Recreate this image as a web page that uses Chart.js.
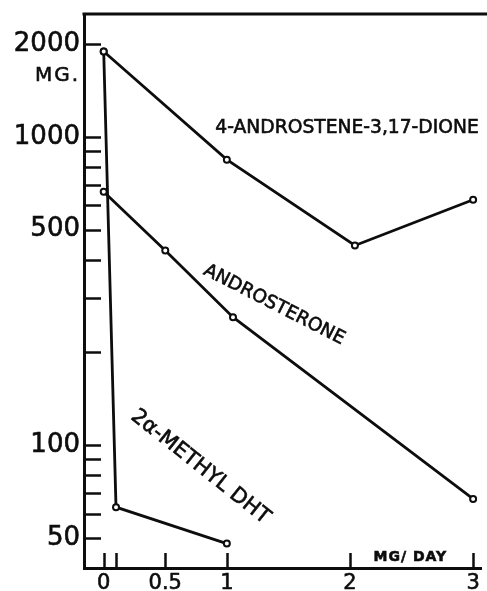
<!DOCTYPE html>
<html>
<head>
<meta charset="utf-8">
<script src="https://cdn.jsdelivr.net/npm/chart.js@4/dist/chart.umd.min.js"></script>
<style>
html,body{margin:0;padding:0;background:#fff;}
#wrap{width:487px;height:591px;position:relative;}
</style>
</head>
<body>
<div id="wrap"><canvas id="c" width="487" height="591"></canvas></div>
<script>
// ---- data ----
const androstenedioneX = [0, 1, 2.04, 3];
const androstenedioneY = [1890, 843, 444, 625];
const androsteroneX = [0, 0.5, 1.05, 3];
const androsteroneY = [663, 428, 260, 67];
const methylDhtX = [0, 0.1, 1];
const methylDhtY = [1890, 63, 48];

const xTickValues = [0, 0.1, 0.5, 1, 2, 3];
const xTickLabels = ['0', '', '0.5', '1', '2', '3'];
const yTickValues = [50, 60, 70, 80, 90, 100, 200, 300, 400, 500, 600, 700, 800, 900, 1000, 2000];
const yLabeledTicks = [2000, 1000, 500, 100, 50];
const yUnitLabel = 'MG.';
const xUnitLabel = 'MG/ DAY';
const seriesNames = ['4-ANDROSTENE-3,17-DIONE', 'ANDROSTERONE', '2α-METHYL DHT'];

const toPts = (xs, ys) => xs.map((x, i) => ({x: x, y: ys[i]}));
const INK = '#0d0d0d';
const FONT = '"DejaVu Sans", sans-serif';

function ds(label, xs, ys) {
  return {
    label: label,
    data: toPts(xs, ys),
    borderColor: INK,
    borderWidth: 2.8,
    pointRadius: 3,
    pointBorderWidth: 2,
    pointBackgroundColor: '#fff',
    pointBorderColor: INK,
    tension: 0,
    clip: false
  };
}

const framePlugin = {
  id: 'frame',
  afterDraw(chart) {
    const ctx = chart.ctx;
    const a = chart.chartArea;
    const xs = chart.scales.x, ys = chart.scales.y;
    ctx.save();
    ctx.strokeStyle = INK;
    ctx.lineCap = 'butt';
    // top frame line
    ctx.lineWidth = 3;
    ctx.beginPath();
    ctx.moveTo(a.left - 1.5, a.top);
    ctx.lineTo(chart.width, a.top);
    ctx.stroke();
    // inward y ticks
    ctx.lineWidth = 2.5;
    yTickValues.forEach(v => {
      const p = Math.round(ys.getPixelForValue(v)) + 0.5;
      ctx.beginPath();
      ctx.moveTo(a.left, p);
      ctx.lineTo(a.left + 17, p);
      ctx.stroke();
    });
    // inward x ticks
    xTickValues.forEach(v => {
      const p = Math.round(xs.getPixelForValue(v)) + 0.5;
      ctx.beginPath();
      ctx.moveTo(p, a.bottom);
      ctx.lineTo(p, a.bottom - 15);
      ctx.stroke();
    });
    ctx.fillStyle = INK;
    ctx.lineWidth = 0.6;
    const txt = (s, x, y) => { ctx.fillText(s, x, y); ctx.strokeText(s, x, y); };
    // unit labels
    ctx.font = '20px ' + FONT;
    ctx.letterSpacing = '2px';
    ctx.textAlign = 'right';
    ctx.textBaseline = 'middle';
    txt(yUnitLabel, a.left - 4, ys.getPixelForValue(2000) + 32);
    ctx.letterSpacing = '1px';
    ctx.font = 'bold 14px ' + FONT;
    ctx.textAlign = 'center';
    txt(xUnitLabel, xs.getPixelForValue(2.49), a.bottom - 11);
    ctx.letterSpacing = '0px';
    // series labels
    const drawRot = (s, xv, yv, deg, size) => {
      ctx.save();
      ctx.translate(xs.getPixelForValue(xv), ys.getPixelForValue(yv));
      ctx.rotate(deg * Math.PI / 180);
      ctx.font = size + 'px ' + FONT;
      ctx.textAlign = 'center';
      ctx.textBaseline = 'middle';
      txt(s, 0, 0);
      ctx.restore();
    };
    drawRot(seriesNames[0], 1.976, 1070, 0, 18.7);
    drawRot(seriesNames[1], 1.384, 285, 27, 18.5);
    drawRot(seriesNames[2], 0.784, 85, 38.5, 21);
    ctx.restore();
  }
};

new Chart(document.getElementById('c'), {
  type: 'line',
  data: {
    datasets: [
      ds(seriesNames[0], androstenedioneX, androstenedioneY),
      ds(seriesNames[1], androsteroneX, androsteroneY),
      ds(seriesNames[2], methylDhtX, methylDhtY)
    ]
  },
  options: {
    responsive: false,
    animation: false,
    devicePixelRatio: 1,
    layout: {padding: {top: 14, left: 0, right: 0, bottom: 0}},
    plugins: {legend: {display: false}, tooltip: {enabled: false}},
    scales: {
      x: {
        type: 'linear',
        min: -0.16,
        max: 3.064,
        afterBuildTicks: s => { s.ticks = xTickValues.map(v => ({value: v})); },
        afterFit: s => { s.height = 23; s.paddingLeft = 0; s.paddingRight = 0; },
        grid: {display: true, drawOnChartArea: false, drawTicks: false},
        border: {display: true, width: 3, color: INK},
        ticks: {
          autoSkip: false, maxRotation: 0, padding: 3, color: INK,
          textStrokeColor: INK, textStrokeWidth: 0.6,
          font: {family: FONT, size: 21},
          callback: (v) => { const i = xTickValues.indexOf(v); return i >= 0 ? xTickLabels[i] : ''; }
        }
      },
      y: {
        type: 'logarithmic',
        min: 40,
        max: 2500,
        afterBuildTicks: s => { s.ticks = yTickValues.map(v => ({value: v})); },
        afterFit: s => { s.width = 84; s.paddingTop = 0; s.paddingBottom = 0; },
        grid: {display: true, drawOnChartArea: false, drawTicks: false},
        border: {display: true, width: 3, color: INK},
        ticks: {
          autoSkip: false, padding: 4, color: INK,
          textStrokeColor: INK, textStrokeWidth: 0.6,
          font: {family: FONT, size: 26},
          callback: (v) => yLabeledTicks.includes(v) ? String(v) : ''
        }
      }
    }
  },
  plugins: [framePlugin]
});
</script>
</body>
</html>
